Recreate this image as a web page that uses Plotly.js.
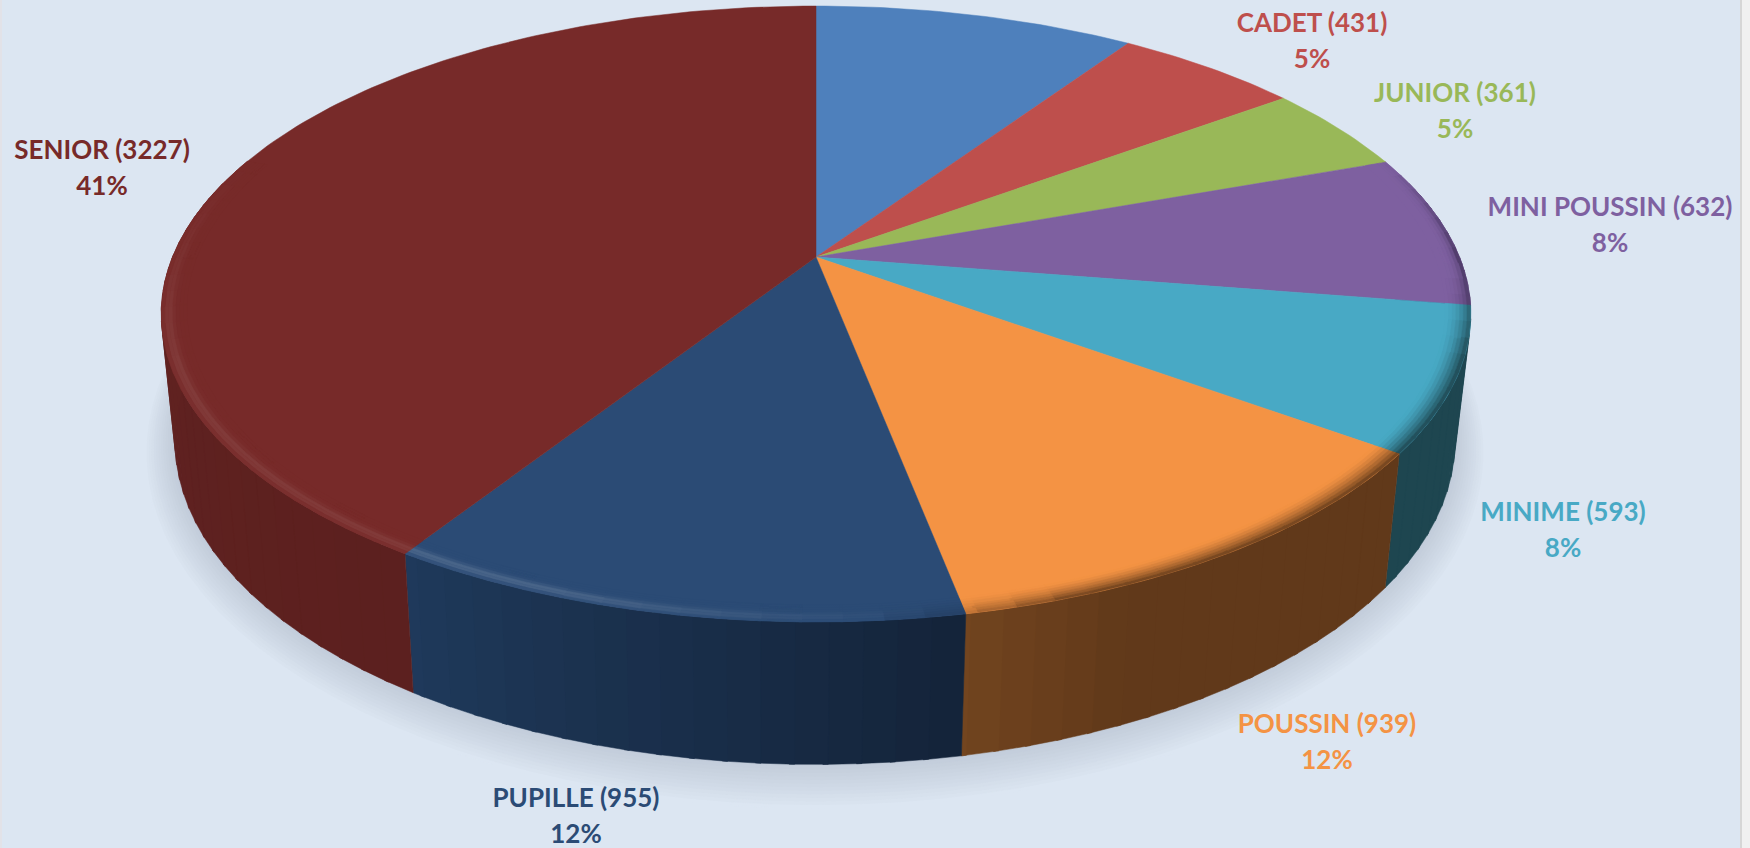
<!DOCTYPE html>
<html><head><meta charset="utf-8">
<script src="https://cdn.plot.ly/plotly-3.0.1.min.js"></script>
<style>html,body{margin:0;padding:0;background:#DCE6F2;overflow:hidden}</style>
</head><body><div id="chart" style="width:1750px;height:848px"></div>
<script>
// ---- data ----
const categories = ["", "CADET", "JUNIOR", "MINI POUSSIN", "MINIME", "POUSSIN", "PUPILLE", "SENIOR"];
const values     = [745, 431, 361, 632, 593, 939, 955, 3227];
const percents   = ["", "5%", "5%", "8%", "8%", "12%", "12%", "41%"];
// ---- styles ----
const faceColors = ["#4E80BC","#BE4F4C","#99B858","#7E60A0","#48A9C5","#F49344","#2B4B75","#772A29"];
const wallStart  = ["#2F4D71","#733030","#5D7035","#3D2E55","#1E4650","#61391A","#14243A","#5C201F"];
const wallEnd    = ["#2F4D71","#733030","#5D7035","#3D2E55","#1E4650","#73451F","#1F3A5C","#682522"];
const labelX = [0, 1312, 1455, 1610, 1563, 1327, 576, 102];
const labelY = [0, 25, 95, 209, 514, 726, 800, 152];
const lineGap = 36;
const bg = "#DCE6F2";
// ---- projection of the tilted disc ----
const cx=816, cy=257, a=643.5, b=297.4, k=0.185;
const bx=815, by=381, ba=629, bb=312.5;
const rad = d => d*Math.PI/180;
function topPt(t,r){const u=r*Math.sin(rad(t)),v=r*Math.cos(rad(t)),w=1+k*v;return [cx+a*u/w,cy-b*v/w];}
function basePt(t,g=0,dy=0){const u=Math.sin(rad(t)),v=Math.cos(rad(t)),w=1+k*v;return [bx+(ba+g)*u/w,by+dy-(bb+g)*v/w];}
const hex = c => [1,3,5].map(i=>parseInt(c.substr(i,2),16));
function mix(c1,c2,f){const A=hex(c1),B=hex(c2);return "#"+A.map((x,i)=>Math.round(x+(B[i]-x)*f).toString(16).padStart(2,"0")).join("");}
const clamp=x=>Math.max(0,Math.min(1,x));
const ramp=(x,p,q)=>clamp((x-p)/(q-p));

const layers=[new Map(),new Map(),new Map(),new Map()];
let stripNo=0;
function poly(layer,color,pts){
  // wall strips stay separate so overlapping strips never cancel in one fill path
  const key=layer===1?color+"|"+(stripNo++):color;
  const m=layers[layer]; if(!m.has(key)) m.set(key,{color,x:[],y:[]});
  const o=m.get(key);
  pts.forEach(p=>{o.x.push(p[0]);o.y.push(p[1]);});
  o.x.push(pts[0][0],null);o.y.push(pts[0][1],null);
}
const total=values.reduce((s,v)=>s+v,0);
let cum=0;
const slices=values.map((v,i)=>{const s=cum/total*360;cum+=v;return {i,s,e:cum/total*360};});

// drop shadow under the base
const shadowN=14, shadowMax=30;
for(let n=0;n<shadowN;n++){
  const f=n/(shadowN-1), g=shadowMax*(1-f);
  const pts=[];for(let t=0;t<360;t+=3)pts.push(basePt(t,g,-2+g*0.3));
  poly(0,mix(bg,"#C0CAD8",Math.pow(f,0.9)),pts);
}
// walls, in strips so that their shading can vary
const wallFrom=75, wallTo=285, wallStep=2.5;
slices.forEach(sl=>{
  const s=Math.max(sl.s,wallFrom), e=Math.min(sl.e,wallTo);
  if(e<=s)return;
  for(let t=s;t<e;t+=wallStep){
    const t2=Math.min(e,t+wallStep+0.4);
    const f=sl.i==5?ramp(t,sl.e-14,sl.e):ramp(t,sl.s,sl.e);
    poly(1,mix(wallStart[sl.i],wallEnd[sl.i],f),[topPt(t,1),topPt(t2,1),basePt(t2),basePt(t)]);
  }
});
// top faces
slices.forEach(sl=>{
  const pts=[topPt(0,0)];
  for(let t=sl.s;t<sl.e;t+=1)pts.push(topPt(t,1));
  pts.push(topPt(sl.e,1));
  poly(2,faceColors[sl.i],pts);
});
// rim shading: lit ridge at front-left, soft shade at front-right
const bands=7, rimIn=0.962, rimStep=3;
function rimColor(i,t,q){
  const lit=ramp(t,172,200)*(1-ramp(t,250,288));
  const dark=ramp(t,92,108)*(1-ramp(t,160,176));
  const thin=ramp(t,70,90)*(1-ramp(t,92,108));
  const wall=mix(wallStart[i],wallEnd[i],0.5);
  let c=faceColors[i];
  const bump=Math.exp(-Math.pow((q-0.7)/0.2,2));
  c=mix(c,"#FFFFFF",(i==7?0.08:0.15)*lit*bump);
  c=mix(c,wall,dark*Math.pow(q,1.6));
  c=mix(c,wall,thin*Math.pow(q,5));
  return c;
}
slices.forEach(sl=>{
  const s=Math.max(sl.s,70), e=Math.min(sl.e,290);
  if(e<=s)return;
  for(let t=s;t<e;t+=rimStep){
    const t2=Math.min(e,t+rimStep+0.2);
    for(let n=0;n<bands;n++){
      const r1=rimIn+(1-rimIn)*n/bands, r2=rimIn+(1-rimIn)*(n+1)/bands;
      poly(3,rimColor(sl.i,t+rimStep/2,(n+0.5)/bands),[topPt(t,r1),topPt(t2,r1),topPt(t2,r2),topPt(t,r2)]);
    }
  }
});
const traces=[];
layers.forEach(m=>m.forEach(o=>traces.push({
  type:"scatter",mode:"lines",x:o.x,y:o.y,fill:"toself",fillcolor:o.color,
  line:{color:o.color,width:0.5},hoverinfo:"skip",showlegend:false})));
// labels
const tx=[],ty=[],tt=[],tc=[];
categories.forEach((c,i)=>{
  if(!c)return;
  tx.push(labelX[i],labelX[i]);ty.push(labelY[i],labelY[i]+lineGap);
  tt.push(c+" ("+values[i]+")",percents[i]);tc.push(faceColors[i],faceColors[i]);
});
traces.push({type:"scatter",mode:"text",x:tx,y:ty,text:tt,textposition:"middle center",
  textfont:{family:"Lato, 'Open Sans', sans-serif",size:26,weight:700,color:tc},hoverinfo:"skip",showlegend:false});

Plotly.newPlot("chart",traces,{
  width:1750,height:848,margin:{l:0,r:0,t:0,b:0},
  paper_bgcolor:bg,plot_bgcolor:bg,showlegend:false,
  xaxis:{range:[0,1750],visible:false,fixedrange:true},
  yaxis:{range:[848,0],visible:false,fixedrange:true},
  shapes:[
    {type:"rect",xref:"x",yref:"y",x0:0,x1:2,y0:0,y1:848,fillcolor:"#E2E2E8",line:{width:0}},
    {type:"rect",xref:"x",yref:"y",x0:1741,x1:1750,y0:0,y1:848,fillcolor:"#F0F0F0",line:{width:0}},
    {type:"rect",xref:"x",yref:"y",x0:1740,x1:1742,y0:0,y1:848,fillcolor:"#D6D6D6",line:{width:0}}
  ]
},{displayModeBar:false,staticPlot:true});
</script></body></html>
